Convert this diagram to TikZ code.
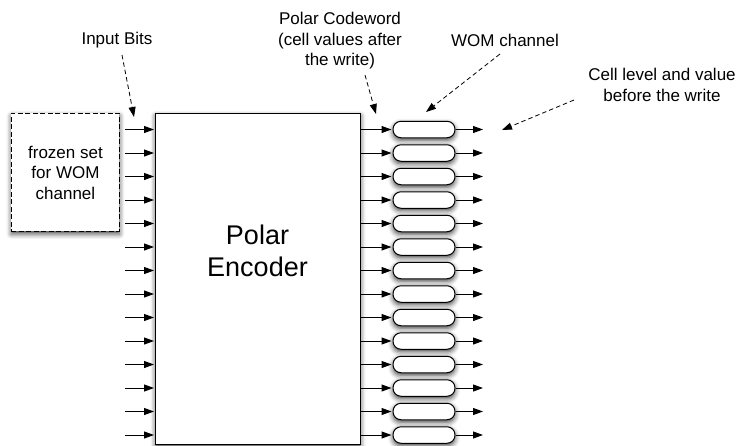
\documentclass[tikz,border=0pt]{standalone}
\usepackage{fontspec}
\setmainfont{Liberation Sans}
\usetikzlibrary{shadows.blur,arrows.meta}
\begin{document}
\begin{tikzpicture}[x=1pt,y=-1pt,
  lbl/.style={font=\fontsize{17}{20.5}\selectfont, align=center, inner sep=0pt},
  sig/.style={-{Triangle[length=10pt,width=7pt]}, line width=1pt, shorten >=1pt},
  callout/.style={-{Triangle[length=10pt,width=7pt]}, line width=0.8pt, dash pattern=on 4.5pt off 3pt},
  shade/.style={blur shadow={shadow xshift=0pt,shadow yshift=-2.5pt,shadow blur radius=5pt,shadow opacity=75}},
  cell/.style={draw, line width=1pt, rounded corners=8pt, minimum width=62pt, minimum height=16.5pt, fill=white, inner sep=0pt, shade}
]
\useasboundingbox (0,0) rectangle (744,445);
% encoder
\node[draw, line width=1pt, fill=white, shade, minimum width=205pt, minimum height=331pt, anchor=north west, inner sep=0pt] (enc) at (155,113) {};
\node[font=\fontsize{27}{32}\selectfont, align=center, inner sep=0pt] (enclabel) at (257.5,251) {Polar\\Encoder};
% frozen set
\node[draw, dash pattern=on 5pt off 2.5pt, line width=0.9pt, fill=white, shade, minimum width=108pt, minimum height=118pt, anchor=north west, inner sep=0pt, font=\fontsize{17}{20.5}\selectfont, align=center] (frozen) at (11,113) {frozen set\\for WOM\\channel};
% rows
\foreach \i in {0,...,13} {
  \pgfmathsetmacro\yy{129.5+23.5*\i}
  \coordinate (in\i) at (125,\yy);
  \draw[sig] (in\i) -- (enc.west |- in\i);
  \node[cell] (c\i) at (424,\yy) {};
  \draw[sig] (enc.east |- c\i) -- (c\i.west);
  \coordinate (out\i) at (484,\yy);
  \draw[sig] (c\i.east) -- (out\i);
}
% labels
\node[lbl] (inbits) at (117,40) {Input Bits};
\node[lbl] (codeword) at (340,41) {Polar Codeword\\(cell values after\\the write)};
\node[lbl] (wom) at (505,40) {WOM channel};
\node[lbl] (celllvl) at (662,85) {Cell level and value\\before the write};
% callouts
\coordinate (p1) at (122,55);  \coordinate (q1) at (134,117);
\coordinate (p2) at (365,75);  \coordinate (q2) at (376,114);
\coordinate (p3) at (500,54);  \coordinate (q3) at (426,112);
\coordinate (p4) at (574,100); \coordinate (q4) at (502,130);
\draw[callout] (p1) -- (q1);
\draw[callout] (p2) -- (q2);
\draw[callout] (p3) -- (q3);
\draw[callout] (p4) -- (q4);
\end{tikzpicture}
\end{document}
